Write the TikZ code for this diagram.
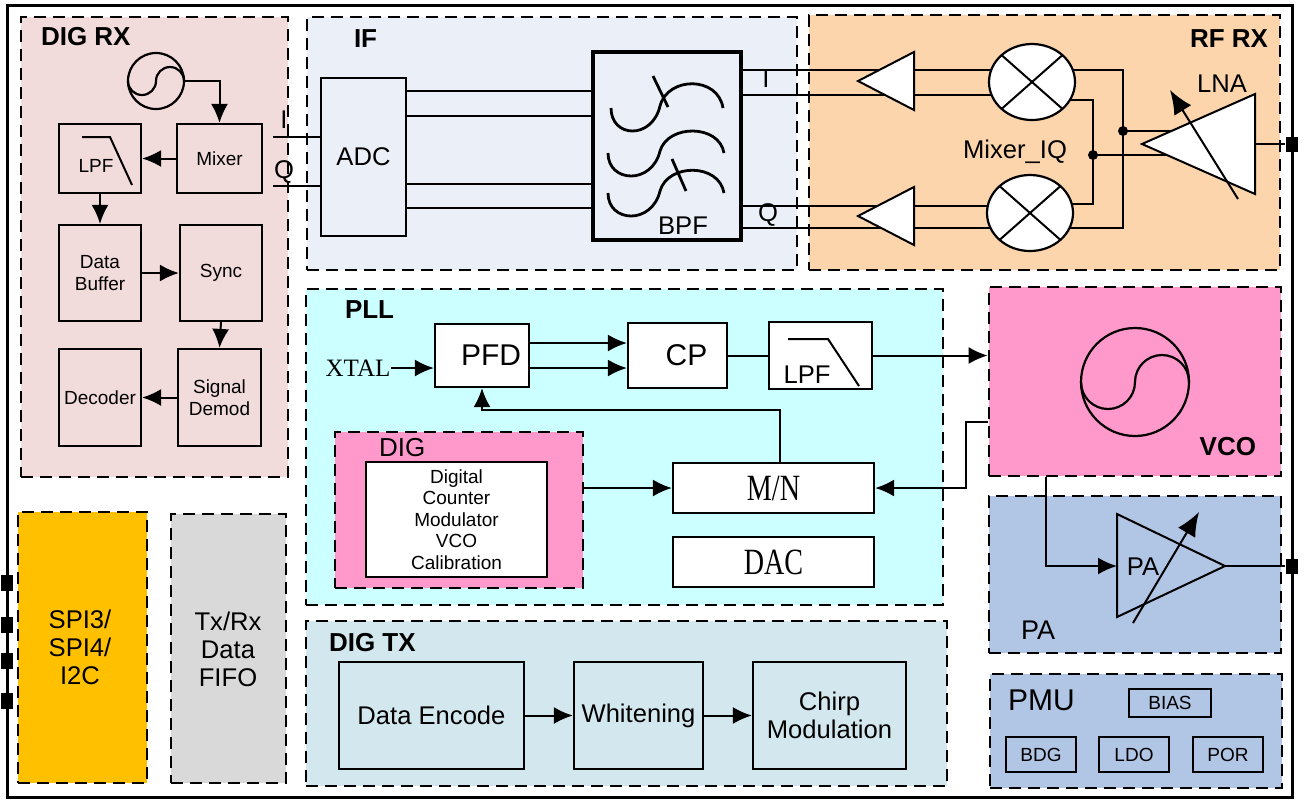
\documentclass[tikz,border=0pt]{standalone}
\usepackage{fontspec}
\setmainfont{Liberation Sans}
\newfontfamily\serifnarrow[FakeStretch=0.76]{Liberation Serif}
\newfontfamily\serifplain{Liberation Serif}
\usepackage{xcolor}
\usepackage{tikz}
\usetikzlibrary{shapes,arrows.meta,positioning,fit,calc}

\definecolor{rxpink}{HTML}{F2DCDB}
\definecolor{ifgray}{HTML}{EBF0F8}
\definecolor{rforange}{HTML}{FCD5AC}
\definecolor{pllcyan}{HTML}{CCFFFF}
\definecolor{hotpink}{HTML}{FF99CC}
\definecolor{pablue}{HTML}{B1C5E5}
\definecolor{spigold}{HTML}{FFC000}
\definecolor{fifogray}{HTML}{D9D9D9}
\definecolor{txteal}{HTML}{D3E8EE}

\tikzset{
  zone/.style={draw, line width=1.4pt, dash pattern=on 6pt off 3.5pt, inner sep=0pt},
  box/.style={draw, line width=1.1pt, inner sep=0pt},
  zonetitle/.style={inner sep=0pt, font=\fontsize{13}{15}\selectfont\bfseries},
  zonename/.style={inner sep=0pt, font=\fontsize{13.5}{16}\selectfont},
  smalltxt/.style={align=center, font=\fontsize{9.5}{10.75}\selectfont},
  midtxt/.style={align=center, font=\fontsize{12.8}{14}\selectfont},
  bigtxt/.style={font=\fontsize{15}{18}\selectfont},
  mathtxt/.style={font=\serifnarrow\fontsize{18.5}{20}\selectfont},
  iopad/.style={fill=black, minimum width=6pt, minimum height=7.5pt, inner sep=0pt},
  mixer/.style={draw, ellipse, fill=white, line width=1.1pt, minimum width=43pt, minimum height=38pt, inner sep=0pt, outer sep=0pt},
  oscsym/.style={draw, circle, line width=1.1pt, inner sep=0pt, outer sep=0pt},
  tune/.style={->, >={Latex[length=12pt,width=10pt]}},
}

\begin{document}
\begin{tikzpicture}[x=0.5pt, y=-0.5pt, line width=1pt, >={Latex[length=9.5pt,width=8.5pt]}]

\useasboundingbox (0,0) rectangle (1306,800);

% Outer frame
\draw[line width=1.5pt] (7,5) rectangle (1292,797);

% Blocks
\node[zone, fill=rxpink, fit={(21,17) (288,477)}] (digrx) {};
\node[zone, fill=ifgray, fit={(307,17) (797,270)}] (ifzone) {};
\node[zone, fill=rforange, fit={(809,15) (1280,270)}] (rfrx) {};
\node[zone, fill=pllcyan, fit={(306,289) (943,605)}] (pll) {};
\node[zone, fill=hotpink, fit={(335,432) (583,588)}] (dig) {};
\node[zone, fill=hotpink, fit={(989,287) (1281,476)}] (vco) {};
\node[zone, fill=pablue, fit={(989,496) (1281,653)}] (pa) {};
\node[zone, fill=pablue, fit={(990,674) (1282,788)}] (pmu) {};
\node[zone, fill=spigold, fit={(18,512) (147,783)}] (spi) {};
\node[zone, fill=fifogray, fit={(171,514) (286,783)}] (fifo) {};
\node[zone, fill=txteal, fit={(306,621) (947,786)}] (digtx) {};
\node[midtxt] (tspi) at (80,647) {SPI3/\\SPI4/\\I2C};
\node[midtxt] (tfifo) at (228,649) {Tx/Rx\\Data\\FIFO};

% Block titles
\node[zonetitle, anchor=base west] (tdigrx) at (40,45) {DIG RX};
\node[zonetitle, anchor=base west] (tif) at (353,47) {IF};
\node[zonetitle, anchor=base east] (trfrx) at (1269,47) {RF RX};
\node[zonetitle, anchor=base west] (tpll) at (344,318) {PLL};
\node[zonename, font=\fontsize{13}{15}\selectfont, anchor=base west] (tdig) at (378,456) {DIG};
\node[zonetitle, anchor=base east] (tvco) at (1257,455) {VCO};
\node[zonename, anchor=base west] (tpa) at (1020,639) {PA};
\node[zonename, font=\fontsize{15}{18}\selectfont, anchor=base west] (tpmu) at (1007,710) {PMU};
\node[zonetitle, anchor=base west] (tdigtx) at (328,651) {DIG TX};

% DIG RX chain
\node[oscsym, minimum size=28pt] (osc) at (156,81) {};
\draw[line width=1.1pt] (osc.west) arc[start angle=180, end angle=360, radius=7pt] arc[start angle=180, end angle=0, radius=7pt];
\node[box, fit={(177,124) (262,193)}] (mixer) {};
\node[box, fit={(59,124) (141,193)}] (lpf) {};
\node[box, fit={(59,225) (141,321)}] (buffer) {};
\node[box, fit={(180,225) (262,321)}] (sync) {};
\node[box, fit={(178,349) (261,446)}] (demod) {};
\node[box, fit={(59,349) (141,446)}] (decoder) {};
\node[smalltxt] (tmixer) at (mixer) {Mixer};
\draw (82,137) -- (110,137) -- (132,185);
\node[smalltxt, anchor=base] (tlpf) at (96,172) {LPF};
\node[smalltxt] (tbuffer) at (buffer) {Data\\Buffer};
\node[smalltxt] (tsync) at (sync) {Sync};
\node[smalltxt] (tdemod) at (demod) {Signal\\Demod};
\node[smalltxt] (tdecoder) at (decoder) {Decoder};
\draw[->] (osc.east) -| (mixer.north);
\draw[->] (mixer.west) -- (lpf.east);
\draw[->] (lpf.south) -- (buffer.north);
\draw[->] (buffer.east) -- (sync.west);
\draw[->] (sync.south) -- (demod.north);
\draw[->] (demod.west) -- (decoder.east);

% IF
\node[box, fit={(321,78) (406,236)}] (adc) {};
\node[midtxt] (tadc) at (adc) {ADC};
\node[box, line width=1.7pt, fit={(593,52) (741,240)}] (bpf) {};
\node[midtxt, anchor=base] (tbpf) at (683,234) {BPF};
\draw[line width=1.4pt] (611,108) .. controls (611,138) and (652,140) .. (660,106) .. controls (668,76) and (718,76) .. (723,108);
\draw[line width=1.4pt] (608,153) .. controls (608,183) and (652,185) .. (660,151) .. controls (668,124) and (719,124) .. (724,153);
\draw[line width=1.4pt] (608,193) .. controls (608,223) and (652,225) .. (660,191) .. controls (668,163) and (719,163) .. (724,193);
\draw[line width=1.4pt] (653,76) -- (668,107);
\draw[line width=1.4pt] (672,159) -- (686,191);
\draw ([yshift=33pt]adc.east) -- ([yshift=33pt]adc.east -| bpf.west);
\draw ([yshift=20.5pt]adc.east) -- ([yshift=20.5pt]adc.east -| bpf.west);
\draw ([yshift=-13.5pt]adc.east) -- ([yshift=-13.5pt]adc.east -| bpf.west);
\draw ([yshift=-25.5pt]adc.east) -- ([yshift=-25.5pt]adc.east -| bpf.west);

% I/Q into ADC
\coordinate (iin) at (273,137);
\coordinate (qin) at (273,186);
\draw (iin) -- (iin -| adc.west);
\draw (qin) -- (qin -| adc.west);
\node[midtxt, anchor=base] (tiin) at (284,128) {I};
\node[midtxt, anchor=base] (tqin) at (284,178) {Q};

% RF RX
\coordinate (chI1) at (0,70);
\coordinate (chI2) at (0,95);
\coordinate (chQ1) at (0,206);
\coordinate (chQ2) at (0,228);
\coordinate (mixIc) at (1032,82);
\coordinate (mixQc) at (1030,213);
\coordinate (busA) at (1123,131);
\coordinate (busB) at (1093,155);
\coordinate (lnatip) at (1142,144);
\coordinate (lnaout) at (1255,144);
\draw (bpf.east |- chI1) -- (mixIc |- chI1);
\draw (bpf.east |- chI2) -- (mixIc |- chI2);
\draw (bpf.east |- chQ1) -- (mixQc |- chQ1);
\draw (bpf.east |- chQ2) -- (mixQc |- chQ2);
\node[midtxt, anchor=base] (tiout) at (766,87) {I};
\node[midtxt, anchor=base] (tqout) at (768,221) {Q};
\draw (mixIc |- chI1) -| (busA) |- (mixQc |- chQ2);
\draw ($(mixIc)+(0,18)$) -| (busB) |- ($(mixQc)+(0,-9)$);
\fill (busA) circle (2.5pt);
\fill (busB) circle (2.5pt);
\draw (busA) -- (busA -| lnaout);
\draw (busB) -- (busB -| lnaout);
\draw[fill=white] (914,52) -- (858,81) -- (914,110) -- cycle;
\draw[fill=white] (914,187) -- (858,216) -- (914,245) -- cycle;
\node[mixer] (mixI) at (mixIc) {};
\node[mixer] (mixQ) at (mixQc) {};
\draw (mixI.north west) -- (mixI.south east) (mixI.north east) -- (mixI.south west);
\draw (mixQ.north west) -- (mixQ.south east) (mixQ.north east) -- (mixQ.south west);
\node[midtxt] (tmixiq) at (1015,152) {Mixer\_IQ};
\draw[fill=white] (1255,94) -- (lnatip) -- (1255,194) -- cycle;
\draw[tune] (1238,199) -- (1170,90);
\node[midtxt] (tlna) at (1222,84) {LNA};
\node[iopad] (padlna) at (1292,144) {};
\draw (lnaout) -- (padlna);

% PLL
\node[font=\serifplain\fontsize{12.5}{14}\selectfont, inner sep=0pt] (xtal) at (358,368) {XTAL};
\node[box, fill=white, fit={(435,324) (529,387)}] (pfd) {};
\node[box, fill=white, fit={(628,323) (727,388)}] (cp) {};
\node[box, fill=white, fit={(769,322) (872,389)}] (lpfpll) {};
\node[bigtxt, xshift=4.5pt] (tpfd) at (pfd) {PFD};
\node[bigtxt, xshift=4.5pt] (tcp) at (cp) {CP};
\draw (788,339) -- (828,339) -- (859,386);
\node[midtxt, anchor=base] (tlpfpll) at (807,383) {LPF};
\node[box, fill=white, fit={(673,463) (874,513)}] (mn) {};
\node[box, fill=white, fit={(673,537) (874,587)}] (dac) {};
\node[mathtxt] (tmn) at (mn) {M/N};
\node[mathtxt] (tdac) at (dac) {DAC};
\node[box, fill=white, fit={(366,462) (547,577)}] (digcore) {};
\node[smalltxt] (tdigcore) at (digcore) {Digital\\Counter\\Modulator\\VCO\\Calibration};
\draw[->] (xtal.east) -- (xtal.east -| pfd.west);
\draw[->] ([yshift=6.25pt]pfd.east) -- ([yshift=6.25pt]cp.west);
\draw[->] ([yshift=-6.25pt]pfd.east) -- ([yshift=-6.25pt]cp.west);
\draw (cp.east) -- (lpfpll.west);
\draw[->] ([xshift=3pt]mn.north) -- ++(0,-52) -| (pfd.south);
\draw[->] (dig.east |- mn.west) -- (mn.west);
\draw[->] (lpfpll.east) -- (lpfpll.east -| vco.west);
\draw[->] ([yshift=-20.25pt]vco.west) -- ++(-22,0) |- (mn.east);

% VCO
\node[oscsym, minimum size=54pt] (vcosym) at (1135,382) {};
\draw[line width=1.1pt] (vcosym.west) arc[start angle=180, end angle=360, radius=13.5pt] arc[start angle=180, end angle=0, radius=13.5pt];

% PA
\coordinate (pain) at (1117,566);
\coordinate (patip) at (1225,566);
\draw (1117,514) -- (patip) -- (1117,617) -- cycle;
\draw[tune] (1133,623) -- (1199,512);
\node[midtxt] (tpain) at (1143,567) {PA};
\draw[->] ([xshift=-44.5pt]vco.south) |- (pain);
\node[iopad] (padpa) at (1292,566) {};
\draw (patip) -- (padpa);

% PMU
\node[box, fit={(1129,689) (1211,717)}] (bias) {};
\node[box, fit={(1006,737) (1076,772)}] (bdg) {};
\node[box, fit={(1099,737) (1169,772)}] (ldo) {};
\node[box, fit={(1193,737) (1263,772)}] (por) {};
\node[smalltxt] (tbias) at (bias) {BIAS};
\node[smalltxt] (tbdg) at (bdg) {BDG};
\node[smalltxt] (tldo) at (ldo) {LDO};
\node[smalltxt] (tpor) at (por) {POR};

% DIG TX
\node[box, fit={(339,662) (524,769)}] (encode) {};
\node[box, fit={(574,662) (703,769)}] (whiten) {};
\node[box, fit={(753,662) (906,769)}] (chirp) {};
\node[midtxt] (tencode) at (encode) {Data Encode};
\node[midtxt] (twhiten) at (whiten) {Whitening};
\node[midtxt] (tchirp) at (chirp) {Chirp\\Modulation};
\draw[->] (encode.east) -- (whiten.west);
\draw[->] (whiten.east) -- (chirp.west);

% Pins
\node[iopad, minimum height=8pt] (pad1) at (7,583) {};
\node[iopad, minimum height=8pt] (pad2) at (7,625) {};
\node[iopad, minimum height=8pt] (pad3) at (7,661) {};
\node[iopad, minimum height=8pt] (pad4) at (7,701) {};

\end{tikzpicture}
\end{document}
